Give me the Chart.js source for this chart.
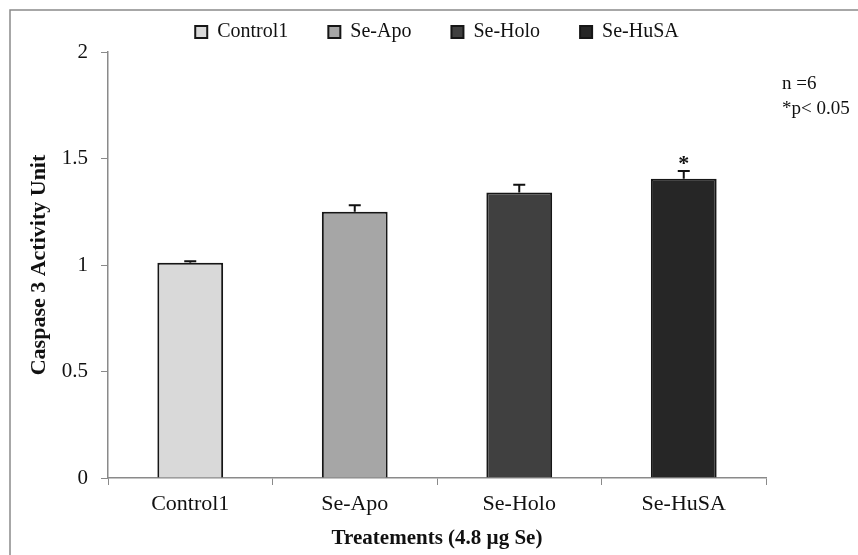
<!DOCTYPE html>
<html>
<head>
<meta charset="utf-8">
<script src="https://cdn.jsdelivr.net/npm/chart.js@4"></script>
<style>
  html, body { margin: 0; padding: 0; background: #ffffff; }
  #wrap { position: relative; width: 858px; height: 555px; }
</style>
</head>
<body>
<div id="wrap"><canvas id="c" width="858" height="555"></canvas></div>
<script>
// Treatment groups and caspase-3 activity (mean and SEM)
const categories = ['Control1', 'Se-Apo', 'Se-Holo', 'Se-HuSA'];
const activity = [1.01, 1.25, 1.34, 1.405];
const sem = [0.008, 0.03, 0.037, 0.036];
const significant = [false, false, false, true];
const yTicks = [0, 0.5, 1, 1.5, 2];
const notes = ['n =6', '*p< 0.05'];

const fills = ['#d9d9d9', '#a6a6a6', '#404040', '#262626'];
const serif = '"Liberation Serif", "Times New Roman", serif';

// one dataset per treatment so each gets its own legend entry
const datasets = categories.map((name, i) => ({
  label: name,
  data: categories.map((_, j) => (j === i ? activity[i] : null)),
  backgroundColor: fills[i],
  borderColor: '#161616',
  borderWidth: 2,
  borderSkipped: 'bottom',
  categoryPercentage: 0.8,
  barPercentage: 0.5
}));

// outer frame of the figure panel
const framePlugin = {
  id: 'frame',
  beforeDraw(chart) {
    const ctx = chart.ctx;
    ctx.save();
    ctx.strokeStyle = '#8a8a8a';
    ctx.lineWidth = 1.5;
    ctx.beginPath();
    ctx.moveTo(10, chart.height);
    ctx.lineTo(10, 10);
    ctx.lineTo(chart.width, 10);
    ctx.stroke();
    ctx.restore();
  }
};

// SEM whiskers, significance star and sample notes
const errorPlugin = {
  id: 'errorBars',
  afterDatasetsDraw(chart) {
    const ctx = chart.ctx;
    const x = chart.scales.x;
    const y = chart.scales.y;
    ctx.save();
    ctx.strokeStyle = '#111111';
    ctx.lineWidth = 2;
    categories.forEach((c, i) => {
      const cx = x.getPixelForValue(i);
      const yTop = y.getPixelForValue(activity[i]);
      const yErr = y.getPixelForValue(activity[i] + sem[i]);
      ctx.beginPath();
      ctx.moveTo(cx, yTop);
      ctx.lineTo(cx, yErr);
      ctx.moveTo(cx - 6, yErr);
      ctx.lineTo(cx + 6, yErr);
      ctx.stroke();
      if (significant[i]) {
        ctx.fillStyle = '#111111';
        ctx.font = 'bold 22px ' + serif;
        ctx.textAlign = 'center';
        ctx.textBaseline = 'alphabetic';
        ctx.fillText('*', cx, yErr - 1);
      }
    });
    ctx.fillStyle = '#111111';
    ctx.font = '19px ' + serif;
    ctx.textAlign = 'left';
    ctx.textBaseline = 'middle';
    notes.forEach((t, k) => ctx.fillText(t, 782, 84 + k * 25));
    ctx.restore();
  }
};

new Chart(document.getElementById('c'), {
  type: 'bar',
  data: { labels: categories, datasets },
  options: {
    responsive: false,
    animation: false,
    skipNull: true,
    layout: { padding: { left: 0, right: 92, top: -18, bottom: 0 } },
    plugins: {
      tooltip: { enabled: false },
      legend: {
        position: 'top',
        fullSize: false,
        labels: {
          color: '#111111',
          font: { family: serif, size: 20 },
          boxWidth: 12,
          boxHeight: 12,
          padding: 40
        }
      }
    },
    scales: {
      x: {
        afterFit(scale) { scale.height = 77; },
        grid: {
          display: true,
          offset: true,
          drawOnChartArea: false,
          drawTicks: true,
          tickLength: 7,
          color: '#8a8a8a'
        },
        border: { display: true, color: '#8a8a8a', width: 1.5 },
        ticks: {
          color: '#111111',
          font: { family: serif, size: 22 },
          padding: 6
        },
        title: {
          display: true,
          text: 'Treatements (4.8 µg Se)',
          color: '#111111',
          font: { family: serif, size: 21, weight: 'bold' },
          padding: { top: 0, bottom: 4 }
        }
      },
      y: {
        min: 0,
        max: 2,
        afterFit(scale) { scale.width = 108; },
        afterBuildTicks(scale) { scale.ticks = yTicks.map(v => ({ value: v })); },
        grid: {
          display: true,
          drawOnChartArea: false,
          drawTicks: true,
          tickLength: 7,
          color: '#8a8a8a'
        },
        border: { display: true, color: '#8a8a8a', width: 1.5 },
        ticks: {
          color: '#111111',
          font: { family: serif, size: 21 },
          padding: 13,
          callback: v => String(v)
        },
        title: {
          display: true,
          text: 'Caspase 3 Activity Unit',
          color: '#111111',
          font: { family: serif, size: 22, weight: 'bold' },
          padding: { top: 26, bottom: 0 }
        }
      }
    }
  },
  plugins: [framePlugin, errorPlugin]
});
</script>
</body>
</html>
